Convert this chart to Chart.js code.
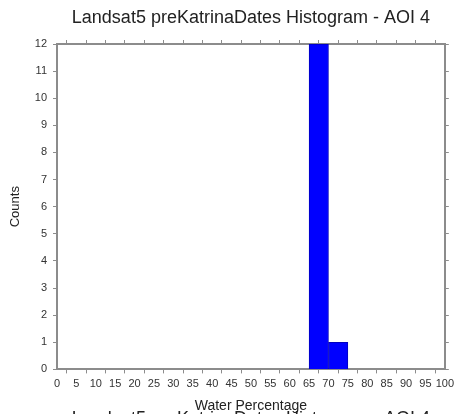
<!DOCTYPE html>
<html>
<head>
<meta charset="utf-8">
<script src="https://cdn.jsdelivr.net/npm/chart.js@4/dist/chart.umd.min.js"></script>
<style>
  html, body { margin: 0; padding: 0; background: #fff; overflow: hidden; width: 458px; height: 414px; }
  #wrap { position: relative; width: 458px; height: 430px; }
</style>
</head>
<body>
<div id="wrap"><canvas id="hist"></canvas></div>
<script>
// Histogram bins (lower edge, percent) and counts per bin
const binEdges = [0, 5, 10, 15, 20, 25, 30, 35, 40, 45, 50, 55, 60, 65, 70, 75, 80, 85, 90, 95];
const binWidth = 5;
const binCounts = [0, 0, 0, 0, 0, 0, 0, 0, 0, 0, 0, 0, 0, 12, 1, 0, 0, 0, 0, 0];
const titleText = 'Landsat5 preKatrinaDates Histogram - AOI 4';
const xTitle = 'Water Percentage';
const yTitle = 'Counts';

const points = binEdges.map((e, i) => ({ x: e + binWidth / 2, y: binCounts[i] }));

const axisGray = '#8c8c8c';
const labelColor = '#333333';
const fontFamily = '"Liberation Sans", Arial, Helvetica, sans-serif';

function frameAxis(extra) {
  return Object.assign({
    grid: { drawOnChartArea: false, drawTicks: true, tickLength: 4, color: axisGray, lineWidth: 1 },
    border: { display: true, color: axisGray, width: 2 }
  }, extra);
}

new Chart(document.getElementById('hist'), {
  type: 'bar',
  data: {
    datasets: [{
      data: points,
      backgroundColor: '#0000ff',
      borderColor: '#0000c0',
      borderWidth: 1,
      barPercentage: 1,
      categoryPercentage: 1,
      xAxisID: 'x',
      yAxisID: 'y'
    }]
  },
  options: {
    responsive: true,
    maintainAspectRatio: false,
    animation: false,
    layout: { padding: 0 },
    plugins: {
      legend: { display: false },
      tooltip: { enabled: false },
      title: {
        display: true,
        text: titleText,
        fullSize: false,
        color: '#222',
        font: { family: fontFamily, size: 18, weight: 'normal' },
        padding: { top: 7, bottom: 6.4 }
      },
      subtitle: {
        display: true,
        text: titleText,
        position: 'bottom',
        fullSize: false,
        color: '#222',
        font: { family: fontFamily, size: 18, weight: 'normal' },
        padding: { top: -3, bottom: 0 }
      }
    },
    scales: {
      x: frameAxis({
        type: 'linear',
        position: 'bottom',
        min: 0, max: 100,
        offset: false,
        afterFit: s => { s.height = 42; },
        ticks: {
          stepSize: 5, autoSkip: false, maxRotation: 0, padding: 4,
          color: labelColor, font: { family: fontFamily, size: 11 }
        },
        title: {
          display: true, text: xTitle, color: '#222',
          font: { family: fontFamily, size: 14 },
          padding: { top: 2, bottom: -3 }
        }
      }),
      x2: frameAxis({
        type: 'linear',
        position: 'top',
        min: 0, max: 100,
        offset: false,
        afterFit: s => { s.height = 9; },
        ticks: { stepSize: 5, autoSkip: false, display: false }
      }),
      y: frameAxis({
        type: 'linear',
        position: 'left',
        min: 0, max: 12,
        afterFit: s => { s.width = 57; },
        ticks: {
          stepSize: 1, padding: 6,
          color: labelColor, font: { family: fontFamily, size: 11 }
        },
        title: {
          display: true, text: yTitle, color: '#222',
          font: { family: fontFamily, size: 13 },
          padding: { top: 8, bottom: 0 }
        }
      }),
      y2: frameAxis({
        type: 'linear',
        position: 'right',
        min: 0, max: 12,
        afterFit: s => { s.width = 11; },
        ticks: { stepSize: 1, display: false }
      })
    }
  }
});
</script>
</body>
</html>
